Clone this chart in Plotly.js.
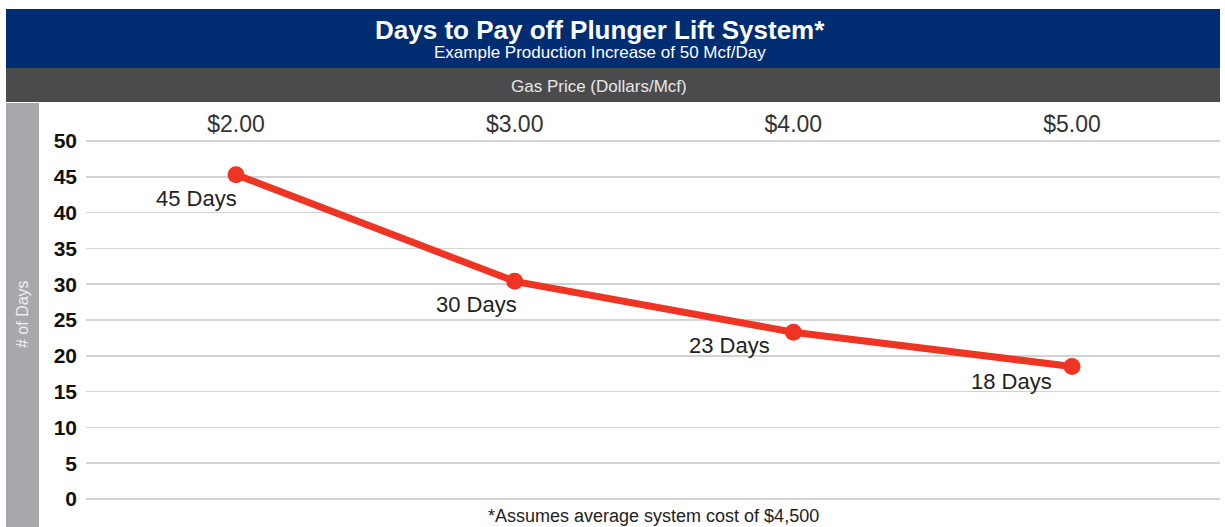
<!DOCTYPE html>
<html>
<head>
<meta charset="utf-8">
<script src="https://cdn.plot.ly/plotly-3.0.1.min.js"></script>
<style>html,body{margin:0;padding:0;background:#fff;}#chart{width:1225px;height:527px;}</style>
</head>
<body>
<div id="chart"></div>
<script>
// ---- data ----
const gasPrices = [2, 3, 4, 5];
const priceLabels = ["$2.00", "$3.00", "$4.00", "$5.00"];
const daysToPayoff = [45.3, 30.4, 23.3, 18.5];
const dayLabels = ["45 Days", "30 Days", "23 Days", "18 Days"];
const yTicks = [0, 5, 10, 15, 20, 25, 30, 35, 40, 45, 50];

// ---- layout helpers (pixel -> paper) ----
const W = 1225, H = 527;
const M = {l: 86, r: 5, t: 103, b: 20};
const PW = W - M.l - M.r, PH = H - M.t - M.b;
const px = v => (v - M.l) / PW;
const py = v => (H - M.b - v) / PH;

const labelOffsets = [[-39, -24], [-38, -23], [-64, -13], [-61, -15]];

const FONT = "Liberation Sans, Arial, sans-serif";

const trace = {
  x: gasPrices,
  y: daysToPayoff,
  type: "scatter",
  mode: "lines+markers",
  line: {color: "#ee3524", width: 7},
  marker: {color: "#ee3524", size: 17},
  hoverinfo: "skip",
  cliponaxis: false
};

const annotations = dayLabels.map((t, i) => ({
  x: gasPrices[i], y: daysToPayoff[i], xref: "x", yref: "y",
  text: t, showarrow: false, xanchor: "center", yanchor: "middle",
  xshift: labelOffsets[i][0], yshift: labelOffsets[i][1],
  font: {family: FONT, size: 22, color: "#222"}
}));

const paperText = (x, y, text, size, color, extra) => Object.assign({
  xref: "paper", yref: "paper", x: px(x), y: py(y), text: text,
  showarrow: false, xanchor: "center", yanchor: "middle",
  font: {family: FONT, size: size, color: color}
}, extra || {});

annotations.push(
  paperText(600, 30, "<b>Days to Pay off Plunger Lift System*</b>", 26, "#ffffff"),
  paperText(600, 52, "Example Production Increase of 50 Mcf/Day", 17, "#ffffff"),
  paperText(599, 87, "Gas Price (Dollars/Mcf)", 17, "#e8e8e8"),
  paperText(653, 516, "*Assumes average system cost of $4,500", 18, "#222"),
  paperText(22, 314, "# of Days", 16, "#eeeeee", {textangle: -90})
);

const shapes = [
  {type: "rect", xref: "paper", yref: "paper", x0: px(6), x1: px(1220), y0: py(68), y1: py(9),
   fillcolor: "#002d72", line: {width: 0}, layer: "below"},
  {type: "rect", xref: "paper", yref: "paper", x0: px(6), x1: px(1220), y0: py(102), y1: py(68),
   fillcolor: "#4b4b4d", line: {width: 0}, layer: "below"},
  {type: "rect", xref: "paper", yref: "paper", x0: px(6), x1: px(39), y0: py(527), y1: py(103),
   fillcolor: "#a7a8ab", line: {width: 0}, layer: "below"}
];

const layout = {
  width: W, height: H,
  margin: M,
  paper_bgcolor: "#ffffff",
  plot_bgcolor: "rgba(0,0,0,0)",
  showlegend: false,
  xaxis: {
    range: [2 - 150 / 278.7, 5 + 148 / 278.7],
    side: "top",
    tickvals: gasPrices,
    ticktext: priceLabels,
    ticklabelposition: "inside",
    ticklabelstandoff: 10,
    ticks: "",
    showgrid: false, zeroline: false, showline: false,
    tickfont: {family: FONT, size: 23, color: "#333"},
    fixedrange: true
  },
  yaxis: {
    range: [-8 / 7.16, 396 / 7.16],
    tickvals: yTicks,
    ticks: "",
    ticklabelstandoff: 8,
    showgrid: true, gridcolor: "#d3d3d3", gridwidth: 1.5,
    zeroline: false, showline: false,
    tickfont: {family: FONT, size: 21, color: "#111", weight: "bold"},
    fixedrange: true
  },
  shapes: shapes,
  annotations: annotations
};

Plotly.newPlot("chart", [trace], layout, {displayModeBar: false, staticPlot: true});
</script>
</body>
</html>
